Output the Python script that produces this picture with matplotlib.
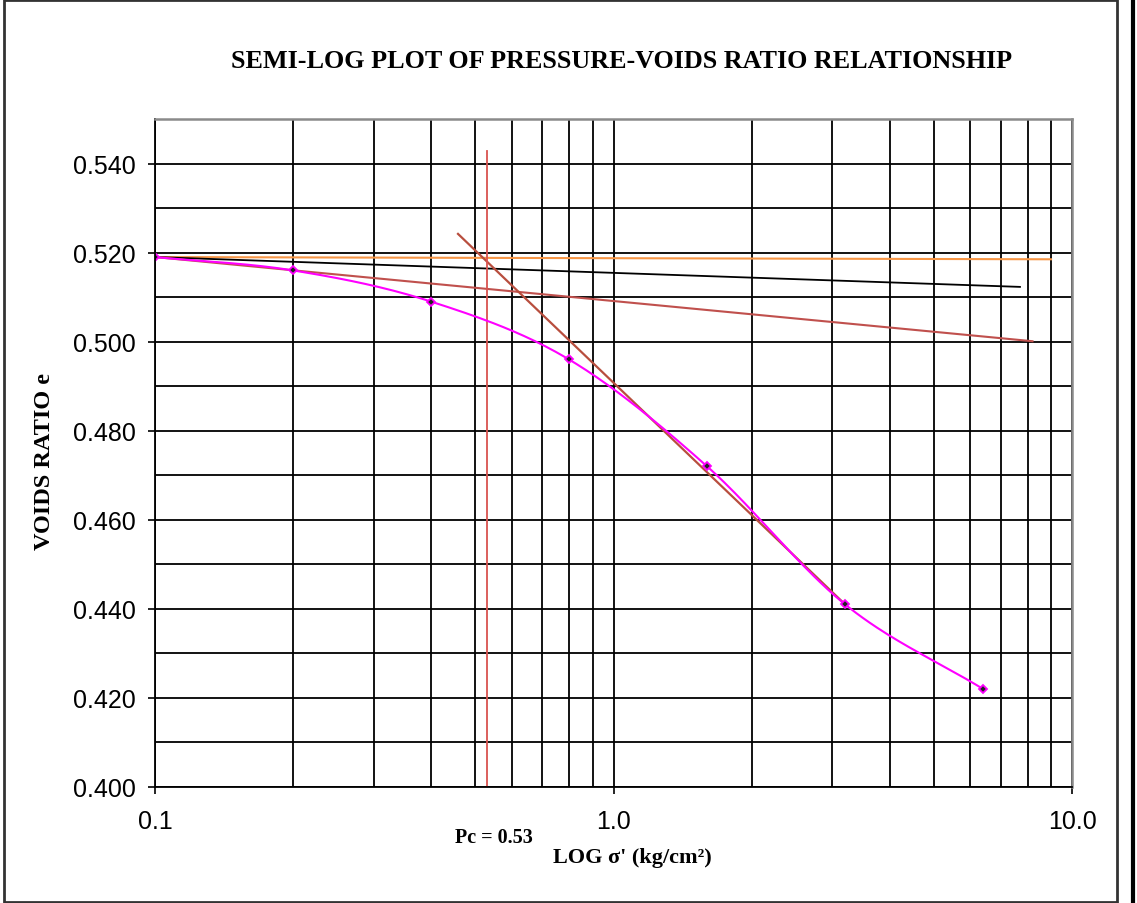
import numpy as np
import matplotlib.pyplot as plt
from matplotlib.ticker import FixedLocator, MultipleLocator, FormatStrFormatter
from matplotlib.patches import Rectangle
from matplotlib.lines import Line2D

# consolidation test readings: effective pressure (kg/cm2) vs voids ratio
pressure = [0.1, 0.2, 0.4, 0.8, 1.6, 3.2, 6.4]
voids_ratio = [0.519, 0.516, 0.509, 0.496, 0.472, 0.441, 0.422]

# Casagrande construction lines (x, e)
horiz_x, horiz_e = [0.1, 9.0], [0.519, 0.5185]
bisector_x, bisector_e = [0.1, 7.7], [0.519, 0.5123]
tangent_x, tangent_e = [0.1, 8.2], [0.519, 0.5001]
virgin_x, virgin_e = [0.458, 3.2], [0.5242, 0.441]
pc = 0.53
pc_e = [0.400, 0.5428]

x_ticks = [0.1, 1.0, 10.0]
x_ticklabels = ['0.1', '1.0', '10.0']

W, H = 1137, 904


def smooth(xs, ys, n=40):
    # Catmull-Rom through the points in log-x space
    u = np.log10(xs)
    v = np.array(ys, dtype=float)
    su, sv = 2.0 / 917, 0.150 / 668
    pu = np.concatenate([[2 * u[0] - u[1]], u, [2 * u[-1] - u[-2]]]) / su
    pv = np.concatenate([[2 * v[0] - v[1]], v, [2 * v[-1] - v[-2]]]) / sv
    ou, ov = [], []
    for i in range(1, len(pu) - 2):
        t = np.linspace(0, 1, n, endpoint=(i == len(pu) - 3))
        for p, out in ((pu, ou), (pv, ov)):
            p0, p1, p2, p3 = p[i - 1], p[i], p[i + 1], p[i + 2]
            out.extend(0.5 * ((2 * p1) + (-p0 + p2) * t
                              + (2 * p0 - 5 * p1 + 4 * p2 - p3) * t ** 2
                              + (-p0 + 3 * p1 - 3 * p2 + p3) * t ** 3))
    return 10 ** (np.array(ou) * su), np.array(ov) * sv


fig = plt.figure(figsize=(W / 100, H / 100), dpi=100)
ax = fig.add_axes([155 / W, 1 - 788 / H, (1072 - 155) / W, (788 - 120) / H])

ax.set_xscale('log')
ax.set_xlim(0.1, 10)
ax.set_ylim(0.400, 0.550)

ax.xaxis.set_major_locator(FixedLocator(x_ticks))
ax.set_xticklabels(x_ticklabels)
ax.xaxis.set_minor_locator(FixedLocator([k * d for d in (0.1, 1.0) for k in range(2, 10)]))
ax.xaxis.set_minor_formatter(plt.NullFormatter())
ax.yaxis.set_major_locator(MultipleLocator(0.020))
ax.yaxis.set_minor_locator(MultipleLocator(0.010))
ax.yaxis.set_major_formatter(FormatStrFormatter('%.3f'))

ax.tick_params(which='major', direction='out', length=5, width=1.2, color='black',
               labelsize=18, pad=9)
ax.tick_params(axis='x', which='major', pad=11)
ax.tick_params(which='minor', length=0)
for lab in ax.get_xticklabels() + ax.get_yticklabels():
    lab.set_fontfamily('Liberation Sans')

ax.set_axisbelow(True)
ax.grid(True, which='both', color='black', linewidth=1.3)
for side in ('top', 'right'):
    ax.spines[side].set_color('#8a8a8a')
    ax.spines[side].set_linewidth(1.8)
for side in ('left', 'bottom'):
    ax.spines[side].set_color('black')
    ax.spines[side].set_linewidth(1.3)

ax.plot(horiz_x, horiz_e, color='#F79646', lw=1.5)
ax.plot(bisector_x, bisector_e, color='black', lw=1.3)
ax.plot(tangent_x, tangent_e, color='#C0504D', lw=1.5)
ax.plot(virgin_x, virgin_e, color='#B84E3E', lw=1.6)
ax.plot([pc, pc], pc_e, color='#D9534F', lw=1.3)

sx, sy = smooth(pressure, voids_ratio)
ax.plot(sx, sy, color='magenta', lw=1.5)
ax.plot(pressure, voids_ratio, ls='none', marker='D', ms=4, mfc='#222222',
        mec='magenta', mew=1.3)

serif = 'Liberation Serif'
fig.text(622 / W, 1 - 62 / H, 'SEMI-LOG PLOT OF PRESSURE-VOIDS RATIO RELATIONSHIP',
         ha='center', va='center', fontsize=18.8, fontweight='bold', family=serif)
fig.text(45 / W, 1 - 462 / H, 'VOIDS RATIO e', rotation=90, ha='center', va='center',
         fontsize=17.5, fontweight='bold', family=serif)
fig.text(632 / W, 1 - 858 / H, "LOG σ' (kg/cm²)", ha='center', va='center',
         fontsize=16, fontweight='bold', family=serif)
fig.text(494 / W, 1 - 838 / H, 'Pc = 0.53', ha='center', va='center',
         fontsize=14.5, fontweight='bold', family=serif)

# outer chart frame
fig.patches.append(Rectangle((4 / W, 1 / H), (1117 - 4) / W, (903 - 1) / H,
                             transform=fig.transFigure, fill=False,
                             edgecolor='#333333', linewidth=2))
fig.lines.append(Line2D([1133 / W, 1133 / W], [0, 1], transform=fig.transFigure,
                        color='black', linewidth=3))

fig.savefig('out.png', dpi=100)
